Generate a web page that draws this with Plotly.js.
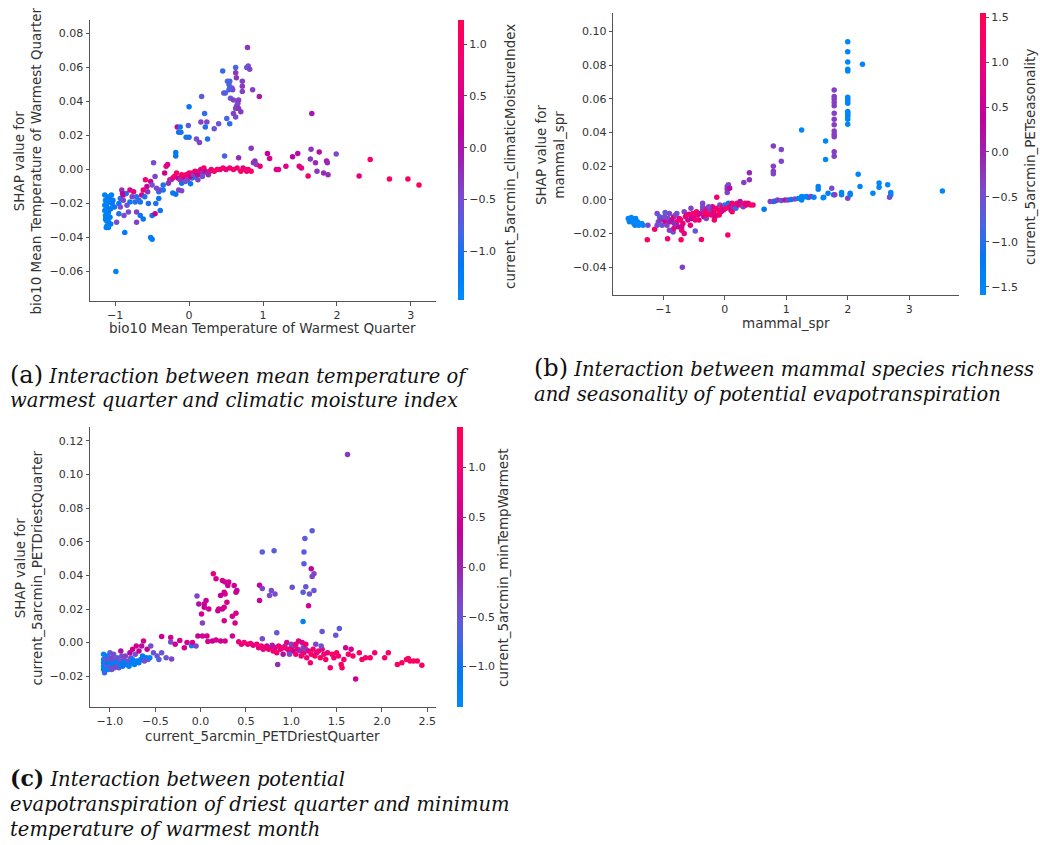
<!DOCTYPE html>
<html><head><meta charset="utf-8">
<script src="https://cdn.plot.ly/plotly-3.0.1.min.js"></script>
<style>html,body{margin:0;padding:0;background:#fff}#chart{width:1040px;height:845px}</style>
</head><body><div id="chart"></div>
<script>
// ---------- Panel (a): bio10 vs climaticMoistureIndex ----------
const a1X=[-1.14,-1.10,-1.05,-1.13,-1.08,-1.14,-1.11,-1.14,-1.09,-1.13,-1.10,-1.07,-1.12,-1.09,-1.11,-1.04,-1.01,-1.12,-1.06,-1.10,-1.12,-1.08,-1.06,-1.13,-1.09,-1.03,-0.99,-0.87,-0.95];
const a1Y=[-0.015,-0.016,-0.015,-0.018,-0.019,-0.021,-0.022,-0.024,-0.025,-0.027,-0.029,-0.028,-0.030,-0.031,-0.033,-0.020,-0.022,-0.034,-0.032,-0.026,-0.020,-0.017,-0.023,-0.029,-0.034,-0.018,-0.060,-0.037,-0.020];
const a1C=[-1.3,-1.3,-1.25,-1.3,-1.2,-1.35,-1.3,-1.3,-1.2,-1.3,-1.3,-1.25,-1.3,-1.3,-1.35,-1.2,-1.1,-1.3,-1.2,-1.3,-1.3,-1.2,-1.2,-1.3,-1.3,-1.1,-1.3,-1.2,-1.1];
const a2X=[-0.98,-0.93,-0.91,-0.89,-0.89,-0.93,-0.85,-0.80,-0.75,-0.80,-0.73,-0.71,-0.66,-0.71,-0.66,-0.62,-0.71,-0.64,-0.62,-0.57,-0.59,-0.52,-0.55,-0.50,-0.46,-0.52,-0.50,-0.48,-0.41,-0.41,-0.45,-0.39,-0.46,-0.44,-0.39,-0.35,-0.35,-0.77,-0.84,-0.88,-0.95,-0.82,-0.90,-0.68,-0.60,-0.56,-0.50];
const a2Y=[-0.031,-0.017,-0.012,-0.015,-0.018,-0.022,-0.014,-0.012,-0.013,-0.019,-0.019,-0.016,-0.019,-0.025,-0.027,-0.029,-0.031,-0.015,-0.012,-0.010,-0.006,-0.007,-0.020,-0.027,-0.026,-0.040,-0.041,0.004,-0.013,-0.017,-0.020,-0.024,-0.004,-0.011,-0.012,-0.009,-0.012,-0.016,-0.021,-0.027,-0.026,-0.025,-0.014,-0.018,-0.016,-0.013,-0.009];
const a2C=[-0.5,-1.0,-0.3,0.4,-0.4,-0.5,-1.0,0.5,0.6,-1.1,-1.0,-1.0,-1.1,-0.4,-1.1,-1.1,-0.4,0.4,0.8,0.3,0.9,0.4,-1.0,-1.1,0.3,-1.2,-1.2,-0.5,-1.0,-1.1,-1.0,-1.1,-0.4,-0.5,-0.4,-1.0,-1.0,-0.4,-0.6,-0.5,-1.0,-0.5,0.2,-0.9,-1.0,-0.3,-0.5];
const a3X=[-0.18,-0.18,-0.18,-0.22,-0.10,0.02,-0.10,0.08,0.04,-0.14];
const a3Y=[0.010,0.008,-0.0145,-0.0137,-0.0125,-0.0084,-0.008,-0.0043,-0.005,-0.012];
const a3C=[-1.1,-1.1,-1.1,-1.1,-0.5,-1.1,-1.1,-1.1,-1.0,-0.4];
const a4X=[-0.33,-0.31,-0.29,-0.28,-0.26,-0.24,-0.22,-0.20,-0.17,-0.15,-0.12,-0.10,-0.08,-0.06,-0.04,-0.02,0.00,0.02,0.04,0.06,0.08,0.10,0.12,0.14,0.16,0.18,0.20,0.22,0.25,0.28,0.30,0.34,0.38,0.42,0.46,0.50,0.55,0.60,0.65,0.70,0.73,0.76,0.80,0.84,0.78,0.12,0.18,0.26,-0.05];
const a4Y=[-0.002,0.002,0.003,-0.008,-0.006,-0.006,-0.005,-0.004,-0.002,-0.005,-0.006,-0.003,-0.004,-0.005,-0.003,-0.006,-0.002,-0.004,-0.002,-0.003,-0.001,-0.002,-0.003,-0.001,0.000,-0.002,0.001,-0.001,-0.002,-0.001,0.000,-0.001,0.000,0.000,0.001,0.000,0.001,0.000,0.001,-0.001,0.001,0.000,0.000,-0.001,-0.001,-0.006,-0.004,-0.003,-0.007];
const a4C=[0.4,0.9,0.5,-0.3,0.9,-0.4,0.6,0.9,1.0,0.2,-0.3,0.9,1.0,0.5,0.9,-0.4,1.0,0.3,0.8,-0.4,1.0,0.6,0.1,0.9,0.5,-0.3,1.0,0.4,-0.2,1.0,0.7,0.9,1.0,0.8,1.0,0.6,1.0,0.9,0.8,1.0,0.7,1.0,0.9,1.0,0.8,-0.4,-0.5,-0.2,-0.6];
const a5X=[0.48,0.67,0.84,0.87,0.89,0.91,0.96,1.06,1.09,1.18,1.21,1.31,1.40,1.47,1.49,1.52,1.61,1.65,1.76,1.64,1.71,1.73,1.82,1.86,1.87,1.88,1.99,2.30,2.45,2.71,2.96,3.11,1.66];
const a5Y=[0.008,0.007,0.0126,0.004,0.005,0.003,0.002,0.0094,0.0065,0.000,0.000,0.002,0.0076,0.0094,0.002,0.001,-0.0037,0.012,0.0104,0.0063,0.004,-0.001,-0.002,0.005,0.004,-0.003,0.0092,-0.0037,0.006,-0.0055,-0.0055,-0.009,0.033];
const a5C=[-0.8,-0.2,-0.3,-0.3,-0.2,-0.4,0.7,0.3,0.5,0.6,0.6,0.6,0.2,0.1,0.6,0.6,0.8,-0.3,0.1,-0.3,-0.2,-0.3,-0.2,0.0,-0.2,-0.2,-0.5,0.6,0.9,1.0,1.0,1.1,0.0];
const a6X=[0.79,0.80,0.78,0.82,0.63,0.455,0.63,0.64,0.52,0.55,0.54,0.55,0.58,0.59,0.54,0.72,0.72,0.47,0.49,0.72,0.86,0.95,0.17,0.56,0.60,0.67,0.66,0.65,0.63,0.64,0.67,0.70,0.60,0.63,0.51,0.55,0.21,0.0,0.16,0.24,0.22,-0.01,0.34,0.40,-0.16,-0.14,-0.12,-0.11,-0.04,0.0,0.10,0.14,0.25];
const a6Y=[0.0718,0.061,0.060,0.059,0.060,0.058,0.057,0.054,0.052,0.052,0.050,0.048,0.048,0.047,0.047,0.052,0.049,0.045,0.045,0.046,0.047,0.043,0.043,0.042,0.041,0.041,0.039,0.038,0.036,0.037,0.036,0.034,0.033,0.031,0.030,0.027,0.033,0.037,0.028,0.028,0.025,0.026,0.024,0.027,0.025,0.022,0.025,0.022,0.019,0.019,0.018,0.016,0.018];
const a6C=[-0.3,-0.5,-0.6,-0.4,-0.8,-0.9,-0.3,-0.3,-0.8,-0.8,-0.8,-0.7,-0.6,-0.4,-0.8,-0.4,-0.3,-0.7,-0.7,-0.4,-0.4,0.0,-0.7,-0.6,-0.4,-0.4,-0.3,-0.5,-0.5,-0.4,-0.3,-0.3,-0.4,-0.5,-0.8,-0.9,-0.9,-1.1,-0.4,-0.4,-1.0,-0.7,-0.6,-0.6,0.3,-1.1,-1.1,-1.0,-1.0,-1.0,-0.5,-0.4,-1.0];

// ---------- Panel (b): mammal_spr vs PETseasonality ----------
const b1X=[-1.57,-1.55,-1.52,-1.50,-1.48,-1.46,-1.42,-1.40,-1.55,-1.45,-1.35,-1.33];
const b1Y=[-0.011,-0.013,-0.0105,-0.012,-0.014,-0.015,-0.013,-0.015,-0.0125,-0.011,-0.014,-0.015];
const b1C=[-1.5,-1.5,-1.5,-1.5,-1.5,-1.4,-1.5,-1.5,-1.4,-1.4,-1.5,-1.5];
const b2X=[-1.25,-1.14,-1.26,-1.10,-1.06,-1.08,-1.10,-1.00,-1.02,-0.96,
-0.94,-0.92,-0.90,-0.97,-0.93,-0.84,-0.83,-0.86,-0.83,-0.80,
-0.78,-0.76,-0.74,-0.72,-0.71,-0.69,-0.70,-0.68,-0.66,-0.64,
-0.60,-0.58,-0.56,-0.54,-0.52,-0.50,-0.48,-0.46,-0.44,-0.42,
-0.40,-0.38,-0.36,-0.36,-0.36,-0.34,-0.32,-0.30,-0.28,-0.26,
-0.24,-0.22,-0.20,-0.18,-0.16,-0.14,-0.13,-0.12,-0.10,-0.08,
-0.06,-0.04,-0.02,0.00,0.02,0.04,0.04,0.04,0.06,0.08,
0.05,0.06,0.08,0.10,0.12,0.14,0.16,0.18,0.20,0.22,
0.25,0.27,0.30,0.31,0.33,0.35,0.38,0.40,0.40,0.42,
0.46,-1.05,-0.98,-0.88,-0.82,-0.78,-0.66,-0.62,-0.55,-0.48,
-0.30,-0.26,-0.17,-0.09,0.12,-0.70,-0.90];
const b2Y=[-0.015,-0.0174,-0.0237,-0.008,-0.010,-0.013,-0.015,-0.012,-0.015,-0.013,
-0.015,-0.011,-0.008,-0.0075,-0.0231,-0.019,-0.017,-0.012,-0.010,-0.009,
-0.013,-0.016,-0.011,-0.012,-0.0237,-0.040,-0.018,-0.014,-0.020,-0.010,
-0.012,-0.0085,-0.015,-0.011,-0.008,-0.010,-0.0185,-0.007,-0.009,-0.012,
-0.008,-0.0235,-0.002,-0.004,-0.006,-0.010,-0.007,-0.011,-0.005,-0.008,
-0.006,-0.009,-0.004,-0.007,-0.010,-0.005,0.0016,-0.009,-0.006,-0.003,
-0.007,-0.004,-0.006,-0.003,-0.005,0.008,0.0063,0.0044,0.009,0.007,
-0.0208,-0.002,-0.004,-0.006,-0.002,-0.004,-0.003,-0.005,-0.002,-0.003,
-0.001,-0.003,-0.004,0.0103,-0.002,-0.003,-0.002,0.012,0.0162,-0.003,
-0.003,-0.012,-0.010,-0.013,-0.014,-0.008,-0.007,-0.009,-0.005,-0.012,
-0.009,-0.004,-0.012,-0.009,-0.007,-0.016,-0.018];
const b2C=[-0.4,1.2,1.3,-0.4,-0.8,-0.5,-0.4,0.5,-0.6,0.6,
-0.3,-0.4,-0.4,-0.6,1.2,-0.5,0.9,0.6,0.8,-0.4,
1.0,0.2,0.9,1.1,1.3,-0.3,1.2,1.0,0.8,1.1,
0.7,1.2,1.0,0.3,1.2,0.8,-0.6,1.3,0.9,1.0,
0.6,1.2,-0.4,-0.4,-0.3,0.5,1.2,-0.3,1.1,0.9,
-0.3,1.2,0.7,1.0,0.4,1.3,1.2,0.9,1.1,-0.4,
1.0,1.2,0.5,-1.0,1.2,-0.3,-0.2,-0.3,-0.4,0.2,
1.2,-1.1,1.1,0.4,1.2,-0.3,1.0,-1.0,1.3,0.8,
0.2,1.1,-0.3,-0.3,1.2,1.0,0.8,-0.2,-0.1,1.3,
1.1,-0.2,-0.5,0.1,-0.1,-0.5,-0.4,0.9,-0.4,1.1,
1.3,-0.4,1.2,1.3,1.2,0.6,-0.3];
const b3X=[0.64,0.74,0.79,0.82,0.86,0.92,0.98,1.03,1.08,1.14,
1.20,1.25,1.25,1.29,1.33,1.36,1.40,1.45,1.52,1.52,
1.61,1.68,1.74,1.77,1.79,1.90,1.90,2.00,2.04,2.04,
2.17,2.20,2.41,2.51,2.51,2.65,2.70,2.70,2.68,3.54,1.60];
const b3Y=[-0.0056,-0.001,-0.001,-0.0006,0.0,-0.0003,0.0,0.0,0.0003,0.0005,
0.0008,0.0,0.002,0.0018,0.002,0.0015,0.002,0.0016,0.008,0.0063,
0.0016,0.004,0.007,0.003,0.003,0.0044,0.003,0.001,0.004,0.003,
0.0152,0.008,0.004,0.010,0.0075,0.009,0.0044,0.003,0.0016,0.0053,0.0013];
const b3C=[-1.2,-0.3,-0.4,-1.2,-0.3,-0.5,0.0,-0.4,-1.2,-0.4,
-1.4,-1.4,-1.5,-1.4,-1.4,-1.4,-0.3,-1.4,-1.4,-1.4,
-1.4,-1.4,-0.5,-1.4,-0.3,-1.4,-1.4,-0.3,-1.4,-1.4,
-1.5,-1.5,-1.5,-1.5,-1.5,-1.5,-1.5,-1.5,-0.6,-1.5,-1.5];
const b4X=[0.79,0.92,0.79,0.79,0.79,0.92,1.25,1.64,1.64,
2.00,2.00,2.00,2.00,2.00,2.24,2.00,2.00,2.00,2.00,2.00,2.00,2.00,2.00,2.00,2.00,
1.78,1.78,1.78,1.78,1.78,1.78,1.78,1.78,1.78,1.78,1.78,1.78,1.78];
const b4Y=[0.032,0.030,0.020,0.017,0.0155,0.023,0.0416,0.035,0.024,
0.094,0.088,0.082,0.0776,0.0766,0.0806,0.061,0.060,0.059,0.0574,0.0525,0.0515,0.0505,0.0495,0.048,0.045,
0.0653,0.0614,0.060,0.058,0.056,0.0515,0.048,0.0446,0.041,0.039,0.0376,0.0287,0.026];
const b4C=[-0.3,-0.4,-0.3,-0.3,-0.4,-0.4,-1.5,-1.5,-1.5,
-1.5,-1.5,-1.5,-1.5,-1.5,-1.5,-1.5,-1.5,-1.5,-1.5,-1.5,-1.5,-1.5,-1.5,-1.5,-1.5,
-0.3,-0.3,-0.3,-0.3,-0.3,-0.3,-0.3,-0.3,-0.3,-0.3,-0.3,-0.3,-0.3];

// ---------- Panel (c): PETDriestQuarter vs minTempWarmest ----------
const c1X=[-1.07,-1.07,-1.07,-1.07,-1.07,-1.06,-1.05,-1.05,-1.05,-1.04,
-1.03,-1.03,-1.02,-1.02,-1.01,-1.00,-1.00,-0.99,-0.98,-0.98,
-0.97,-0.97,-0.96,-0.95,-0.95,-0.94,-0.93,-0.92,-0.91,-0.90,
-0.89,-0.88,-0.88,-0.87,-0.86,-0.85,-0.84,-0.83,-0.82,-0.80,
-0.79,-0.78,-0.77,-0.76,-0.75,-0.73,-0.72,-0.70,-0.68,-0.66,
-0.64,-0.62,-0.60,-0.58,-0.56,-0.75,-0.68,-0.71,-0.63,-0.65,
-0.59,-0.55,-0.52,-0.48,-0.46,-0.43,-0.43,-0.38,-0.33,-0.33,
-0.32,-0.28,-0.23,-0.18,-0.15,-0.10,-0.09,-0.05,-0.03,0.02,0.07,0.08];
const c1Y=[-0.007,-0.010,-0.012,-0.014,-0.016,-0.018,-0.009,-0.013,-0.015,-0.011,
-0.008,-0.014,-0.016,-0.012,-0.010,-0.006,-0.014,-0.012,-0.016,-0.009,
-0.011,-0.013,-0.007,-0.015,-0.010,-0.012,-0.014,-0.009,-0.012,-0.015,
-0.011,-0.013,-0.005,-0.008,-0.014,-0.010,-0.012,-0.008,-0.013,-0.011,
-0.014,-0.006,-0.009,-0.012,-0.010,-0.013,-0.007,-0.011,-0.012,-0.010,
-0.008,-0.011,-0.009,-0.010,-0.009,-0.004,-0.005,-0.002,0.001,-0.002,
-0.004,-0.002,-0.006,-0.008,-0.010,0.0036,-0.006,-0.009,0.003,0.0003,
-0.0098,-0.001,0.0013,-0.003,0.0,-0.0018,0.0,-0.002,0.004,0.004,0.004,0.0006];
const c1C=[-1.3,-1.3,-1.2,-1.3,-1.2,-0.8,-0.6,-0.9,-1.3,-0.5,
-1.2,-0.6,-1.3,-1.1,-0.5,-0.6,-0.5,-1.2,-0.4,-0.3,
-0.5,-1.2,-0.4,-0.5,-0.4,-1.2,-0.3,-0.5,-1.2,-0.5,
-0.5,-1.2,0.2,-0.4,-1.1,-0.5,-1.2,-0.3,-1.1,-0.5,
-1.2,0.3,-0.4,-1.1,-1.2,-1.2,-0.4,-1.1,-1.2,-1.1,
-1.1,-0.4,-1.1,-0.4,-1.2,0.5,0.4,0.6,0.6,0.2,
0.4,-0.4,-0.5,-0.5,-0.6,0.5,-0.5,-0.5,0.6,-0.4,
-0.3,0.6,0.6,0.6,0.6,-1.2,0.6,-0.3,0.5,0.5,0.6,0.6];
const c2X=[0.14,0.17,0.24,0.27,0.31,0.30,0.37,0.26,0.27,0.22,
0.39,0.40,-0.04,-0.02,0.04,0.06,0.09,0.04,0.01,0.20,
0.24,0.26,0.19,0.29,0.39,0.35,0.26,0.38,0.02,0.35,
0.13,0.17,0.22,0.27,0.65,0.68,0.78,0.82,0.76,1.01,
1.16,1.13,1.20,1.25,0.65,1.19,1.62,1.23,1.15,0.68,
0.81,1.14,1.14,1.22,1.25,1.23,1.13,1.34,1.53,1.49,0.84,0.68];
const c2Y=[0.041,0.038,0.037,0.036,0.036,0.034,0.034,0.030,0.029,0.028,
0.030,0.031,0.0278,0.023,0.023,0.025,0.020,0.021,0.017,0.020,
0.020,0.021,0.019,0.024,0.0175,0.0157,0.013,0.0116,0.0116,0.004,
0.001,0.0016,0.001,0.001,0.0341,0.0322,0.031,0.029,0.028,0.033,
0.0333,0.030,0.029,0.031,0.025,0.022,0.112,0.0665,0.062,0.054,
0.0547,0.054,0.047,0.0439,0.041,0.0393,0.0126,0.0066,0.0084,0.0044,0.0059,0.0023];
const c2C=[0.7,0.6,0.6,0.5,0.6,0.5,0.5,0.5,0.6,0.4,
0.5,0.4,-0.3,0.2,0.5,0.4,0.6,0.4,0.6,0.6,
0.5,0.6,0.5,0.6,0.6,0.6,0.6,0.6,-0.3,0.6,
0.4,0.6,0.5,0.6,0.5,-0.3,-0.4,-0.4,-0.4,-0.5,
-0.5,-0.6,-0.5,-0.5,0.5,0.6,-0.2,-0.6,-0.6,-0.6,
-0.6,-0.6,-0.6,0.4,-0.3,-0.3,-1.2,-0.5,-0.6,-0.5,-0.5,-0.4];
const c3X=[0.42,0.45,0.48,0.52,0.55,0.58,0.62,0.64,0.67,0.69,
0.71,0.73,0.75,0.77,0.79,0.80,0.82,0.84,0.85,0.86,
0.88,0.90,0.91,0.93,0.95,0.96,0.98,1.00,1.02,1.04,
1.05,1.07,1.08,1.10,1.11,1.12,1.14,1.16,1.17,1.19,
1.21,1.22,1.24,1.26,1.28,1.30,1.32,1.34,1.36,1.38,
1.40,1.43,1.45,1.47,1.50,1.52,1.55,1.56,1.58,1.60,
1.63,1.66,1.68,1.71,1.75,1.78,1.82,1.87,1.92,2.03,
2.07,2.17,2.22,2.27,2.29,2.31,2.35,2.39,2.44,1.00,
0.92,1.27,1.33,1.13,0.98,1.05,1.16];
const c3Y=[0.0005,-0.001,0.0,-0.001,-0.0005,-0.0015,-0.001,-0.003,-0.002,-0.004,
-0.003,-0.002,-0.004,-0.003,-0.0015,-0.005,-0.003,-0.006,-0.013,-0.002,
-0.004,-0.003,-0.007,-0.002,0.0,-0.004,-0.006,-0.003,-0.005,-0.002,
-0.007,-0.004,0.001,-0.005,-0.008,0.0,-0.006,-0.004,-0.009,-0.005,
-0.012,-0.007,-0.004,-0.008,-0.006,-0.005,-0.009,-0.004,-0.007,-0.010,
-0.006,-0.015,-0.007,-0.009,-0.006,-0.008,-0.013,-0.015,-0.010,-0.003,
-0.007,-0.004,-0.008,-0.0216,-0.006,-0.010,-0.009,-0.009,-0.006,-0.009,
-0.006,-0.013,-0.012,-0.010,-0.0095,-0.011,-0.011,-0.011,-0.0135,-0.001,
-0.003,-0.001,-0.002,-0.003,-0.007,-0.001,-0.001];
const c3C=[0.8,0.9,1.0,0.9,1.0,0.8,1.0,0.9,1.0,0.8,
1.1,0.6,1.0,0.9,0.0,1.0,0.7,1.0,-0.1,0.9,
0.8,1.0,0.2,-0.3,0.7,1.0,0.9,1.0,0.5,-0.2,
1.0,0.8,0.8,-0.1,1.0,0.6,1.1,-0.3,1.0,0.8,
1.0,1.2,1.0,1.2,0.7,1.1,1.2,0.8,1.1,1.2,
0.9,1.1,1.2,1.0,1.2,1.1,1.2,1.2,1.1,0.5,
1.1,0.6,1.2,0.5,1.1,1.2,1.1,1.2,1.0,1.2,
1.1,1.2,1.2,1.2,1.2,1.2,1.2,1.2,1.2,-0.3,
1.0,-0.3,-0.4,-0.2,-0.4,0.9,1.0];

// ---------- labels ----------
const xTitles=["bio10 Mean Temperature of Warmest Quarter","mammal_spr","current_5arcmin_PETDriestQuarter"];
const yTitles=["SHAP value for<br>bio10 Mean Temperature of Warmest Quarter","SHAP value for<br>mammal_spr","SHAP value for<br>current_5arcmin_PETDriestQuarter"];
const cbTitles=["current_5arcmin_climaticMoistureIndex","current_5arcmin_PETseasonality","current_5arcmin_minTempWarmest"];
const capLabels=["(a)","(b)","(c)"];
const captions=[
 ["Interaction between mean temperature of","warmest quarter and climatic moisture index"],
 ["Interaction between mammal species richness","and seasonality of potential evapotranspiration"],
 ["Interaction between potential","evapotranspiration of driest quarter and minimum","temperature of warmest month"]
];

// ---------- build ----------
const W=1040,H=845;
const fx=p=>p/W, fy=p=>1-p/H;
const FONT="DejaVu Sans";
const TXT="#333333";
// SHAP red_blue (LCH interpolation), sampled
const scale=[[0,'rgb(0,138,250)'],[0.125,'rgb(0,121,243)'],[0.25,'rgb(74,100,227)'],[0.375,'rgb(125,73,203)'],
  [0.5,'rgb(155,35,173)'],[0.625,'rgb(193,0,156)'],[0.75,'rgb(224,0,135)'],[0.875,'rgb(246,0,109)'],[1,'rgb(255,0,82)']];

function pts(xs,ys,cs,ax,ca){
  return {type:'scatter',mode:'markers',x:xs,y:ys,xaxis:ax[0],yaxis:ax[1],
    marker:{size:5.5,color:cs,coloraxis:ca,line:{width:0}},hoverinfo:'skip',showlegend:false};
}
const cat=(...a)=>[].concat(...a);
const traces=[
  pts(cat(a1X,a2X,a3X,a4X,a5X,a6X),cat(a1Y,a2Y,a3Y,a4Y,a5Y,a6Y),cat(a1C,a2C,a3C,a4C,a5C,a6C),['x','y'],'coloraxis'),
  pts(cat(b1X,b2X,b3X,b4X),cat(b1Y,b2Y,b3Y,b4Y),cat(b1C,b2C,b3C,b4C),['x2','y2'],'coloraxis2'),
  pts(cat(c1X,c2X,c3X),cat(c1Y,c2Y,c3Y),cat(c1C,c2C,c3C),['x3','y3'],'coloraxis3')
];

function axis(dom,rng,tv,fmt,anchor){
  return {domain:dom,range:rng,tickvals:tv,tickformat:fmt,anchor:anchor,
    showline:true,linecolor:'#555',linewidth:1,mirror:false,showgrid:false,zeroline:false,
    ticks:'outside',ticklen:3.5,tickwidth:1,tickcolor:'#555',
    tickfont:{family:FONT,size:11,color:TXT},fixedrange:true};
}
function cbar(xp,topP,botP,tv,cmin,cmax){
  return {colorscale:scale,cmin:cmin,cmax:cmax,
    colorbar:{x:fx(xp),xanchor:'left',xpad:0,ypad:0,y:fy((topP+botP)/2),yanchor:'middle',
      len:botP-topP,lenmode:'pixels',thickness:5.5,thicknessmode:'pixels',outlinewidth:0,
      tickvals:tv,tickformat:'.1f',ticks:'outside',ticklen:3.5,tickcolor:'#555',
      tickfont:{family:FONT,size:11,color:TXT}}};
}

const layout={
  width:W,height:H,margin:{l:0,r:0,t:0,b:0},paper_bgcolor:'#fff',plot_bgcolor:'#fff',
  showlegend:false,
  xaxis:axis([fx(90),fx(436)],[-1.34,3.34],[-1,0,1,2,3],'d','y'),
  yaxis:axis([fy(301),fy(20)],[-0.0773,0.088],[-0.06,-0.04,-0.02,0,0.02,0.04,0.06,0.08],'.2f','x'),
  xaxis2:axis([fx(613.3),fx(959)],[-1.813,3.81],[-1,0,1,2,3],'d','y2'),
  yaxis2:axis([fy(295),fy(13.3)],[-0.0565,0.1109],[-0.04,-0.02,0,0.02,0.04,0.06,0.08,0.10],'.2f','x2'),
  xaxis3:axis([fx(90),fx(436)],[-1.22,2.596],[-1,-0.5,0,0.5,1,1.5,2,2.5],'.1f','y3'),
  yaxis3:axis([fy(707.3),fy(426.7)],[-0.0385,0.1285],[-0.02,0,0.02,0.04,0.06,0.08,0.10,0.12],'.2f','x3'),
  coloraxis:cbar(458,20,300,[-1,-0.5,0,0.5,1],-1.474,1.235),
  coloraxis2:cbar(980,13.3,295,[-1.5,-1,-0.5,0,0.5,1,1.5],-1.592,1.544),
  coloraxis3:cbar(457,426.7,706.7,[-1,-0.5,0,0.5,1],-1.406,1.412),
  annotations:[]
};
const A=layout.annotations;
function txt(text,x,y,opt){
  A.push(Object.assign({text:text,xref:'paper',yref:'paper',x:fx(x),y:fy(y),showarrow:false,
    xanchor:'center',yanchor:'middle',font:{family:FONT,size:13.5,color:TXT}},opt||{}));
}
// axis titles
txt(xTitles[0],262,328);
txt(xTitles[1],785.7,322.7);
txt(xTitles[2],262.5,736);
txt(yTitles[0],27.5,161,{textangle:-90});
txt(yTitles[1],550,155,{textangle:-90});
txt(yTitles[2],28.5,568,{textangle:-90});
// colorbar titles
txt(cbTitles[0],510,157,{textangle:-90});
txt(cbTitles[1],1030,157,{textangle:-90});
txt(cbTitles[2],503,568,{textangle:-90});
// captions
const capFont={family:'DejaVu Serif',size:19.5,color:'#111'};
const capPos=[[8,[375,400]],[532,[368,395]],[8,[778,804,829]]];
const labStyle=['font-size:24px','font-size:24px','font-size:22px;font-weight:bold'];
captions.forEach((lines,i)=>{
  lines.forEach((ln,j)=>{
    const t=(j===0?'<span style="'+labStyle[i]+'">'+capLabels[i]+'</span> ':'')+'<i>'+ln+'</i>';
    txt(t,capPos[i][0],capPos[i][1][j],{xanchor:'left',font:capFont});
  });
});

Plotly.newPlot('chart',traces,layout,{displayModeBar:false,staticPlot:true});
</script></body></html>
